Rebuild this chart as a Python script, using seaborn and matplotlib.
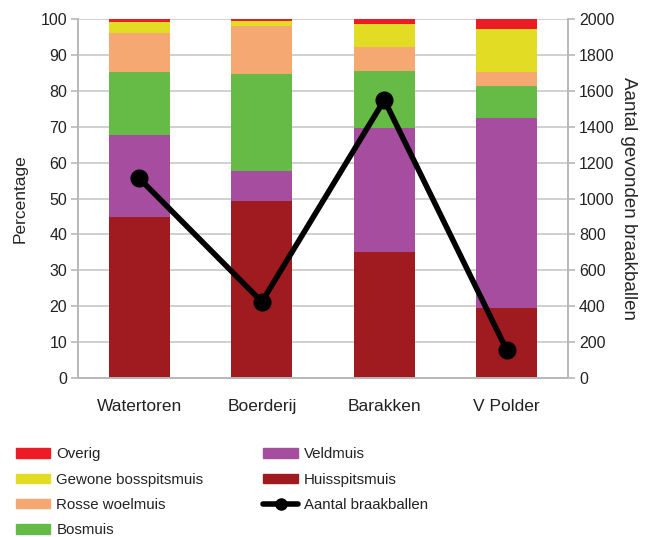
import numpy as np
import pandas as pd
import seaborn as sns
import matplotlib.pyplot as plt
from matplotlib.patches import Patch
from matplotlib.lines import Line2D

locaties = ['Watertoren', 'Boerderij', 'Barakken', 'V Polder']
# percentages per soort, van onder naar boven gestapeld
huisspitsmuis = [45.0, 49.2, 35.2, 19.6]
veldmuis = [22.7, 8.6, 34.5, 52.8]
bosmuis = [17.5, 26.9, 15.7, 8.9]
rosse_woelmuis = [10.9, 13.3, 6.7, 3.9]
gewone_bosspitsmuis = [3.1, 1.4, 6.4, 12.0]
overig = [0.8, 0.6, 1.5, 2.8]
aantal_braakballen = [1112, 425, 1549, 156]

soorten = ['Huisspitsmuis', 'Veldmuis', 'Bosmuis', 'Rosse woelmuis', 'Gewone bosspitsmuis', 'Overig']
kleuren = {'Huisspitsmuis': '#A01B20', 'Veldmuis': '#A64D9F', 'Bosmuis': '#66BB46',
           'Rosse woelmuis': '#F6A872', 'Gewone bosspitsmuis': '#E3DC24', 'Overig': '#ED1C24'}

df = pd.DataFrame({'Locatie': locaties, 'Huisspitsmuis': huisspitsmuis, 'Veldmuis': veldmuis,
                   'Bosmuis': bosmuis, 'Rosse woelmuis': rosse_woelmuis,
                   'Gewone bosspitsmuis': gewone_bosspitsmuis, 'Overig': overig})
cum = df[soorten].cumsum(axis=1)
cum['Locatie'] = locaties

sns.set_style('white')
plt.rcParams['font.family'] = ['Liberation Sans', 'DejaVu Sans']
plt.rcParams['text.color'] = '#222222'
plt.rcParams['xtick.labelcolor'] = '#222222'
plt.rcParams['ytick.labelcolor'] = '#222222'

fig = plt.figure(figsize=(6.51, 5.37), dpi=100)
ax = fig.add_axes([0.12, 0.296, 0.7525, 0.6685])

# gestapeld: van de bovenste (cumulatieve) laag naar beneden tekenen
for soort in soorten[::-1]:
    sns.barplot(data=cum, x='Locatie', y=soort, color=kleuren[soort], width=0.5,
                saturation=1, ax=ax, zorder=2, edgecolor='none', linewidth=0)

ax.set_ylim(0, 100)
ax.set_yticks(np.arange(0, 101, 10))
ax.set_xlim(-0.5, 3.5)
ax.yaxis.grid(True, color='#c8c8c8', linewidth=1.2, zorder=0)
ax.set_axisbelow(True)
ax.set_xlabel('')
ax.set_ylabel('Percentage', fontsize=12.5, labelpad=9)
for s in ['left', 'right', 'bottom']:
    ax.spines[s].set_color('#b8b8b8')
    ax.spines[s].set_linewidth(1.2)
ax.spines['top'].set_visible(False)
ax.tick_params(axis='y', which='major', length=5, color='#b8b8b8', width=1.2, labelsize=11.5, pad=3)
ax.tick_params(axis='x', which='major', length=0, labelsize=12.5, pad=15)
ax.set_xticks([-0.5, 0.5, 1.5, 2.5, 3.5], minor=True)
ax.tick_params(axis='x', which='minor', length=6, color='#b8b8b8', width=1.2)

ax2 = ax.twinx()
sns.pointplot(x=locaties, y=aantal_braakballen, color='black', markers='o', markersize=10,
              linewidth=4, ax=ax2, zorder=5)
ax2.set_ylim(0, 2000)
ax2.set_yticks(np.arange(0, 2001, 200))
ax2.set_xlim(-0.5, 3.5)
ax2.set_ylabel('Aantal gevonden braakballen', fontsize=13.5, rotation=270, labelpad=16)
for s in ['left', 'right', 'bottom']:
    ax2.spines[s].set_color('#b8b8b8')
    ax2.spines[s].set_linewidth(1.2)
ax2.spines['top'].set_visible(False)
ax2.tick_params(axis='y', length=5, color='#b8b8b8', width=1.2, labelsize=11.5, pad=3)
ax2.grid(False)

handles = [Patch(color=kleuren['Overig'], label='Overig'),
           Patch(color=kleuren['Gewone bosspitsmuis'], label='Gewone bosspitsmuis'),
           Patch(color=kleuren['Rosse woelmuis'], label='Rosse woelmuis'),
           Patch(color=kleuren['Bosmuis'], label='Bosmuis'),
           Patch(color=kleuren['Veldmuis'], label='Veldmuis'),
           Patch(color=kleuren['Huisspitsmuis'], label='Huisspitsmuis'),
           Line2D([], [], color='black', linewidth=4, marker='o', markersize=8,
                  label='Aantal braakballen')]
fig.legend(handles=handles, ncol=2, loc='upper left', bbox_to_anchor=(0.015, 0.178),
           frameon=False, fontsize=10.8, handlelength=2.3, handleheight=0.6,
           labelspacing=0.75, columnspacing=4.0, handletextpad=0.4, borderaxespad=0)

fig.savefig('out.png', dpi=100)
